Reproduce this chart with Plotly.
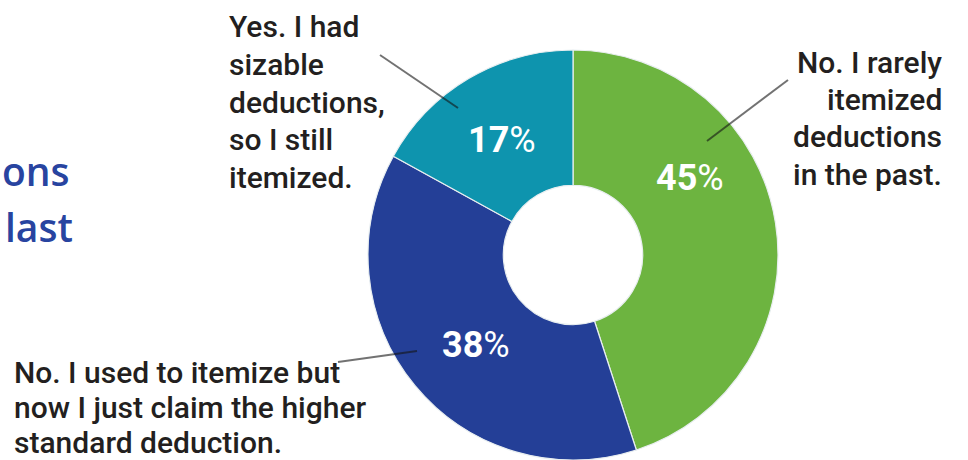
import plotly.graph_objects as go

# Survey answers, clockwise from 12 o'clock
answers = [
    "No. I rarely itemized deductions in the past.",
    "No. I used to itemize but now I just claim the higher standard deduction.",
    "Yes. I had sizable deductions, so I still itemized.",
]
shares = [45, 38, 17]
colors = ["#6db440", "#243f97", "#0e94ae"]

# Callout text, one entry per line
label_lines = [
    ["No. I rarely", "itemized", "deductions", "in the past."],
    ["No. I used to itemize but", "now I just claim the higher", "standard deduction."],
    ["Yes. I had", "sizable", "deductions,", "so I still", "itemized."],
]
title_fragments = ["ons", "last"]

W, H = 968, 460


def px(x):
    return x / W


def py(y):
    return 1 - y / H


fig = go.Figure(
    go.Pie(
        labels=answers,
        values=shares,
        hole=0.34,
        sort=False,
        direction="clockwise",
        rotation=0,
        marker=dict(colors=colors, line=dict(color="#e8eef0", width=1.2)),
        textinfo="none",
        hoverinfo="label+percent",
        domain=dict(x=[px(368), px(778)], y=[py(460), py(50)]),
        showlegend=False,
    )
)

label_font = dict(family="Roboto, sans-serif", size=30, color="#231f20", weight=500)
pct_font = dict(family="Roboto, sans-serif", size=36, color="#ffffff")

annotations = []

# Percent labels inside the ring
pct_pos = [(690, 178), (476, 345), (502, 140)]
for v, (x, y) in zip(shares, pct_pos):
    annotations.append(dict(
        x=px(x), y=py(y), xref="paper", yref="paper",
        text=f"<b>{v}</b>%", showarrow=False, font=pct_font,
        xanchor="center", yanchor="middle",
    ))

# Callout blocks: (anchor x, first line centre y, line step, alignment)
blocks = [
    (944, 62, 37.5, "right"),
    (12, 372, 35, "left"),
    (227, 27, 37.5, "left"),
]
for lines, (x0, y0, step, align) in zip(label_lines, blocks):
    for i, line in enumerate(lines):
        annotations.append(dict(
            x=px(x0), y=py(y0 + i * step), xref="paper", yref="paper",
            text=line, showarrow=False, font=label_font,
            xanchor=align, yanchor="middle",
        ))

# Heading fragments at the left edge
title_font = dict(family="Open Sans, Noto Sans, sans-serif", size=39, color="#2844a0", weight=600)
for frag, (x, y) in zip(title_fragments, [(0, 170), (3, 227)]):
    annotations.append(dict(
        x=px(x), y=py(y), xref="paper", yref="paper",
        text=frag, showarrow=False, font=title_font,
        xanchor="left", yanchor="middle",
    ))

# Leader lines from callouts into their slices
leaders = [
    ((788, 80), (707, 141)),
    ((338, 362), (417, 351)),
    ((380, 55), (458, 108)),
]
shapes = []
for (x0, y0), (x1, y1) in leaders:
    shapes.append(dict(
        type="line", xref="paper", yref="paper",
        x0=px(x0), y0=py(y0), x1=px(x1), y1=py(y1),
        line=dict(color="rgba(20,20,20,0.6)", width=2),
    ))

fig.update_layout(
    width=W, height=H,
    margin=dict(l=0, r=0, t=0, b=0),
    paper_bgcolor="#ffffff",
    plot_bgcolor="#ffffff",
    annotations=annotations,
    shapes=shapes,
)

fig.write_html("out.html")
